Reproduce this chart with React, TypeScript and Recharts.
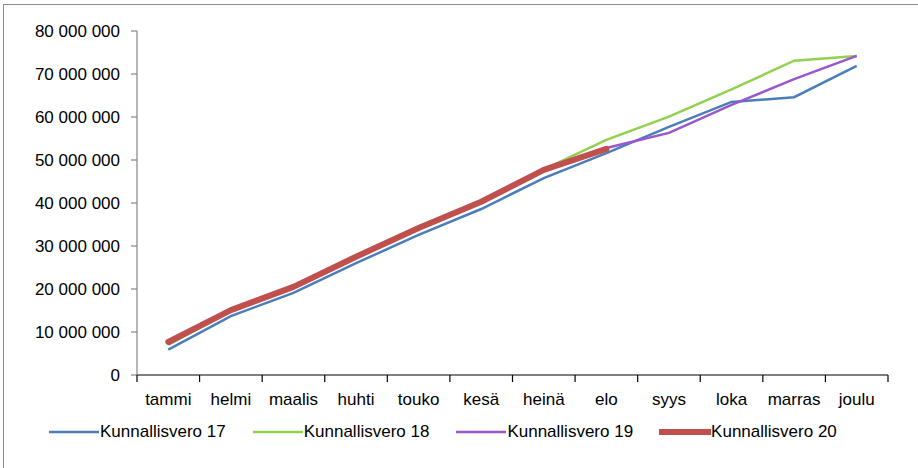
import React from 'react';
import { LineChart, Line, XAxis, YAxis, Legend } from 'recharts';

const categories = ['tammi', 'helmi', 'maalis', 'huhti', 'touko', 'kesä', 'heinä', 'elo', 'syys', 'loka', 'marras', 'joulu'];
const vero17 = [5900000, 13700000, 19100000, 26000000, 32600000, 38600000, 45800000, 51600000, 57700000, 63500000, 64600000, 71900000];
const vero18 = [7000000, 14800000, 20300000, 27300000, 34000000, 40200000, 47800000, 54700000, 60100000, 66400000, 73100000, 74200000];
const vero19 = [7200000, 14900000, 20400000, 27400000, 34100000, 40300000, 47600000, 52800000, 56300000, 62800000, 68800000, 74200000];
const vero20: (number | null)[] = [7700000, 15100000, 20500000, 27500000, 34200000, 40300000, 47700000, 52600000, null, null, null, null];
const yTicks = [0, 10000000, 20000000, 30000000, 40000000, 50000000, 60000000, 70000000, 80000000];

const seriesNames = ['Kunnallisvero 17', 'Kunnallisvero 18', 'Kunnallisvero 19', 'Kunnallisvero 20'];
const seriesColors = ['#4A7EBB', '#92D050', '#9A57CD', '#C0504D'];
const seriesWidths = [2.5, 2.5, 2.5, 6];

const data = categories.map((c, i) => ({
  name: c,
  v17: vero17[i],
  v18: vero18[i],
  v19: vero19[i],
  v20: vero20[i],
}));

const FONT = '"Liberation Sans", Arial, sans-serif';
const W = 918;
const H = 468;
const LEFT = 137;
const RIGHT = 888;
const BAND = (RIGHT - LEFT) / categories.length;

const fmt = (v: number) => String(v).replace(/\B(?=(\d{3})+(?!\d))/g, ' ');

const XTick = (props: any) => {
  const { x, y, payload, index } = props;
  const left = x - BAND / 2;
  return (
    <g>
      <line x1={left} x2={left} y1={y} y2={y + 7} stroke="#000" strokeWidth={1.2} />
      {index === categories.length - 1 && (
        <line x1={x + BAND / 2} x2={x + BAND / 2} y1={y} y2={y + 7} stroke="#000" strokeWidth={1.2} />
      )}
      <text x={x} y={y + 30} textAnchor="middle" fill="#000" fontSize={17} fontFamily={FONT}>
        {payload.value}
      </text>
    </g>
  );
};

const LegendContent = () => (
  <div style={{ display: 'flex', alignItems: 'center', height: 20, paddingLeft: 48, gap: 26, fontFamily: FONT, fontSize: 17, color: '#000' }}>
    {seriesNames.map((n, i) => (
      <div key={n} style={{ display: 'flex', alignItems: 'center' }}>
        <svg width={52} height={10} style={{ display: 'block' }}>
          <line x1={1} x2={51} y1={5} y2={5} stroke={seriesColors[i]} strokeWidth={seriesWidths[i]} strokeLinecap={i === 3 ? 'round' : 'butt'} />
        </svg>
        <span style={{ whiteSpace: 'nowrap' }}>{n}</span>
      </div>
    ))}
  </div>
);

export default function App() {
  return (
    <div style={{ position: 'absolute', left: 0, top: 0, width: W, height: H, background: '#fff', overflow: 'hidden' }}>
      <div style={{ position: 'absolute', left: 3, top: 4, width: 1000, height: 1000, border: '1.5px solid #8c8c8c', boxSizing: 'border-box' }} />
      <div style={{ position: 'absolute', left: 0, top: 0 }}>
        <LineChart width={W} height={H} data={data} margin={{ top: 31, right: W - RIGHT, left: 0, bottom: 53 }}>
          <XAxis
            dataKey="name"
            axisLine={{ stroke: '#000', strokeWidth: 1.2 }}
            tickLine={false}
            tickSize={0}
            tickMargin={0}
            interval={0}
            padding={{ left: BAND / 2, right: BAND / 2 }}
            tick={<XTick />}
            height={20}
          />
          <YAxis
            width={LEFT}
            domain={[0, 80000000]}
            ticks={yTicks}
            interval={0}
            tickFormatter={fmt}
            axisLine={{ stroke: '#868686', strokeWidth: 1.2 }}
            tickLine={{ stroke: '#868686', strokeWidth: 1.2 }}
            tickSize={6}
            tickMargin={11}
            tick={{ fill: '#000', fontSize: 17, fontFamily: FONT }}
          />
          <Legend
            verticalAlign="bottom"
            content={<LegendContent />}
            wrapperStyle={{ top: 422, bottom: 'auto', left: 0, width: W, height: 20 }}
          />
          <Line type="linear" dataKey="v17" name={seriesNames[0]} stroke={seriesColors[0]} strokeWidth={seriesWidths[0]} dot={false} isAnimationActive={false} />
          <Line type="linear" dataKey="v18" name={seriesNames[1]} stroke={seriesColors[1]} strokeWidth={seriesWidths[1]} dot={false} isAnimationActive={false} />
          <Line type="linear" dataKey="v19" name={seriesNames[2]} stroke={seriesColors[2]} strokeWidth={seriesWidths[2]} dot={false} isAnimationActive={false} />
          <Line type="linear" dataKey="v20" name={seriesNames[3]} stroke={seriesColors[3]} strokeWidth={seriesWidths[3]} strokeLinecap="round" strokeLinejoin="round" dot={false} isAnimationActive={false} />
        </LineChart>
      </div>
    </div>
  );
}
